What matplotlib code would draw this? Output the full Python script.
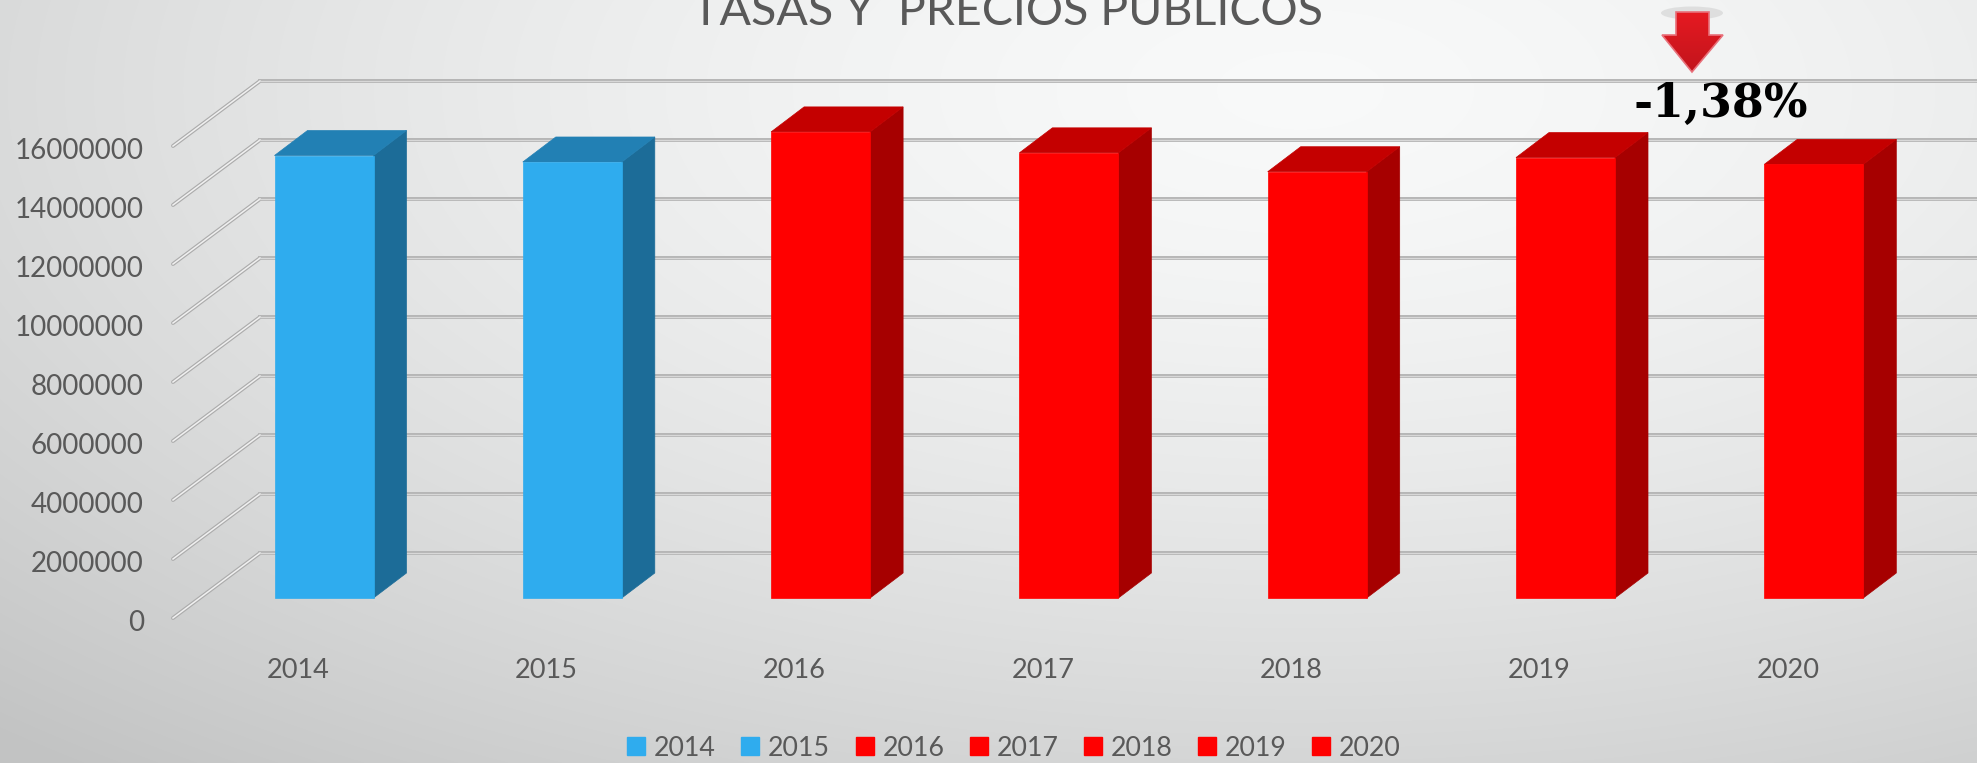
import matplotlib.pyplot as plt
import numpy as np
from matplotlib.patches import Polygon, Ellipse, Patch
from matplotlib.transforms import ScaledTranslation

W, H = 1977, 763
years = ["2014", "2015", "2016", "2017", "2018", "2019", "2020"]
values = [15000000, 14780000, 15800000, 15090000, 14450000, 14930000, 14700000]
front_colors = ["#2FACEE", "#2FACEE", "#FF0000", "#FF0000", "#FF0000", "#FF0000", "#FF0000"]
top_colors = ["#2280B4", "#2280B4", "#C40000", "#C40000", "#C40000", "#C40000", "#C40000"]
side_colors = ["#1C6C98", "#1C6C98", "#A60000", "#A60000", "#A60000", "#A60000", "#A60000"]
y_ticks = [0, 2000000, 4000000, 6000000, 8000000, 10000000, 12000000, 14000000, 16000000]
title = "TASAS Y  PRECIOS PÚBLICOS"
change_label = "-1,38%"

plt.rcParams['font.family'] = ['Lato', 'DejaVu Sans']
text_color = "#595959"

fig = plt.figure(figsize=(W / 100, H / 100), dpi=100)

# background gradient
bg = fig.add_axes([0, 0, 1, 1], zorder=0)
yy, xx = np.mgrid[0:H, 0:W]
dist = np.sqrt(((xx - 1300) / 1600.0) ** 2 + ((yy - 90) / 750.0) ** 2)
shade = np.clip(249 - 42 * dist ** 1.5, 195, 249)
rgb = np.dstack([shade - 0.5, shade + 0.5, shade + 0.5]) / 255
bg.imshow(rgb, aspect="auto", extent=(0, W, H, 0))
bg.axis("off")

# main axes: bottom edge is the front floor line, left edge the front of the walls
left, floor = 173, 618
cat0, cat_step = 298, 248.3
val_px = 59 / 2000000
ax = fig.add_axes([left / W, (H - floor) / H, (W - left) / W, floor / H], zorder=1)
ax.patch.set_alpha(0)
ax.set_xlim((left - cat0) / cat_step, (W - cat0) / cat_step)
ax.set_ylim(0, floor / val_px)
for s in ax.spines.values():
    s.set_visible(False)


def dx(px):
    return px / cat_step


def dy(px):
    return px / val_px


# walls
x_left = ax.get_xlim()[0]
x_right = ax.get_xlim()[1]
for t in y_ticks:
    xs = [x_left, x_left + dx(87), x_right]
    ys = [t, t + dy(65), t + dy(65)]
    ax.plot(xs[:2], ys[:2], color="#acacac", lw=2.8, clip_on=False, solid_capstyle="round", zorder=1)
    ax.plot(xs[:2], ys[:2], color="#f0f0f0", lw=1.1, clip_on=False, zorder=1.1)
    ax.plot(xs[1:], ys[1:], color="#b4b4b4", lw=2.8, clip_on=False, zorder=1)
    ax.plot(xs[1:], ys[1:], color="#d8d8d8", lw=0.9, clip_on=False, zorder=1.1)

# bars, pushed back from the front floor line
bar_w = 99 / cat_step
off_x, off_y = dx(26), dy(20)
depth_x, depth_y = dx(33), dy(25)
legend_handles = []
for i, (v, fc, tc, sc) in enumerate(zip(values, front_colors, top_colors, side_colors)):
    x0 = i + off_x - bar_w / 2
    x1 = x0 + bar_w
    base = off_y
    top = off_y + v
    ax.add_patch(Polygon([(x1, base), (x1 + depth_x, base + depth_y), (x1 + depth_x, top + depth_y), (x1, top)],
                         facecolor=sc, edgecolor=sc, lw=0.5, zorder=2))
    ax.add_patch(Polygon([(x0, top), (x1, top), (x1 + depth_x, top + depth_y), (x0 + depth_x, top + depth_y)],
                         facecolor=tc, edgecolor=tc, lw=0.5, zorder=2))
    ax.bar(x0 + bar_w / 2, v, bar_w, bottom=base, color=fc, edgecolor=fc, lw=0.5, zorder=3)
    legend_handles.append(Patch(color=fc, label=years[i]))

ax.set_xticks(range(len(years)))
ax.set_xticklabels(years, fontsize=19.5, color=text_color)
ax.set_yticks(y_ticks)
ax.set_yticklabels([str(t) for t in y_ticks], fontsize=20, color=text_color)
ax.tick_params(axis="x", length=0, pad=29)
ax.tick_params(axis="y", length=0, pad=21)
for lab in ax.get_yticklabels():
    lab.set_transform(lab.get_transform() + ScaledTranslation(0, -2.5 / 100, fig.dpi_scale_trans))

fig.legend(handles=legend_handles, loc="center", bbox_to_anchor=(1014 / W, (H - 748) / H), ncols=7,
           frameon=False, fontsize=19.3, labelcolor=text_color, handlelength=0.67, handleheight=0.67,
           handletextpad=0.33, columnspacing=0.95, borderpad=0, borderaxespad=0)

# title and the change callout, placed in image pixels
top = fig.add_axes([0, 0, 1, 1], zorder=2)
top.set_xlim(0, W)
top.set_ylim(H, 0)
top.axis("off")
top.text(1008, 25, title, ha="center", va="baseline", fontsize=33.5, color="#595959", clip_on=False)

top.add_patch(Ellipse((1692, 13), 62, 13, facecolor="#b0b0b0", alpha=0.3, lw=0))
arrow = [(1676, 12), (1709, 12), (1709, 35), (1723, 35), (1692, 72), (1662, 35), (1676, 35)]
arrow_patch = Polygon(arrow, closed=True, facecolor="none", edgecolor="#e8707a", lw=1.2, zorder=3)
top.add_patch(arrow_patch)
grad = np.linspace(0, 1, 64).reshape(-1, 1, 1) * np.array([-0.14, -0.02, -0.02]) + np.array([0.90, 0.10, 0.13])
im = top.imshow(grad, extent=(1662, 1723, 72, 12), aspect="auto", zorder=2)
im.set_clip_path(arrow_patch)
top.set_xlim(0, W)
top.set_ylim(H, 0)

top.text(1721, 117, change_label, ha="center", va="baseline", fontsize=33, fontweight="bold",
         family="DejaVu Serif", color="black")

fig.savefig("out.png", dpi=100)
